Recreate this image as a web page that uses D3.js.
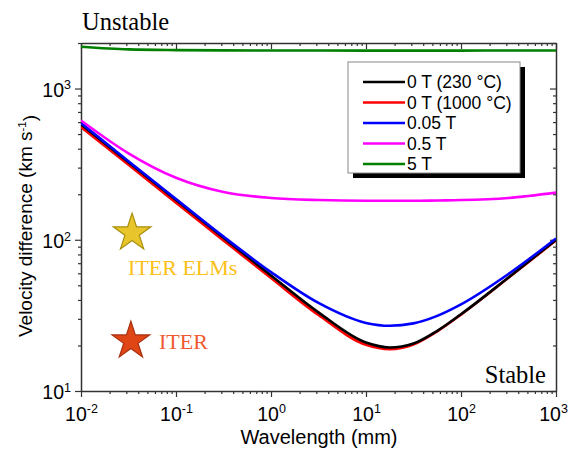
<!DOCTYPE html>
<html>
<head>
<meta charset="utf-8">
<script src="https://cdn.jsdelivr.net/npm/d3@7"></script>
<style>
  body { margin: 0; background: #fff; }
  svg text { font-family: "Liberation Sans", Arial, sans-serif; }
  .serif { font-family: "Liberation Serif", "Times New Roman", serif !important; }
</style>
</head>
<body>
<div id="chart"></div>
<script>
// Wavelength (mm) sampled along the curves
const wavelength = [0.01, 0.0316, 0.1, 0.316, 1, 3.16, 10, 17.8, 31.6, 56.2, 100, 316, 1000];

// Velocity difference (km/s)
const v0T230 = [580, 326, 183, 103, 58.1, 33.1, 20.9, 19.4, 20.6, 25.0, 32.2, 56.3, 100];
const v0T1000 = [556, 313, 176, 99, 55.8, 31.8, 20.2, 18.9, 20.3, 24.8, 32.0, 56.0, 99];
const v005T = [592, 330, 186, 105, 61.1, 38.2, 28.2, 27.0, 28.0, 31.4, 37.4, 59.4, 102];
const v05T = [615, 373, 257, 207, 189, 183, 181, 181, 181, 182, 183, 189, 205];
const v5T = [1890, 1815, 1795, 1788, 1785, 1783, 1782, 1782, 1782, 1782, 1782, 1783, 1785];

const seriesNames = ["0 T (230 °C)", "0 T (1000 °C)", "0.05 T", "0.5 T", "5 T"];
const seriesColors = ["#000000", "#ff0000", "#0000ff", "#ff00ff", "#008000"];
const seriesValues = [v0T230, v0T1000, v005T, v05T, v5T];

// ITER points
const markerNames = ["ITER ELMs", "ITER"];
const markerX = [0.0345, 0.0335];
const markerY = [111, 21.4];

const xMajor = [1e-2, 1e-1, 1e0, 1e1, 1e2, 1e3];
const yMajor = [1e1, 1e2, 1e3];

const margin = { top: 43, right: 15, bottom: 58, left: 81 };
const W = 571, H = 449;
const width = W - margin.left - margin.right;
const height = H - margin.top - margin.bottom;

const svg = d3.select("#chart").append("svg")
  .attr("width", W)
  .attr("height", H);

const g = svg.append("g")
  .attr("transform", `translate(${margin.left},${margin.top})`);

const x = d3.scaleLog().domain([1e-2, 1e3]).range([0, width]);
const y = d3.scaleLog().domain([10, 2000]).range([height, 0]);

g.append("clipPath").attr("id", "plot-clip")
  .append("rect").attr("width", width).attr("height", height);

// minor ticks
const xMinor = x.ticks().filter(d => !xMajor.includes(d));
const yMinor = y.ticks().filter(d => !yMajor.some(m => Math.abs(m - d) < 1e-9));

const exp = d => Math.round(Math.log10(d));

function supLabels(sel) {
  sel.selectAll(".tick text").each(function (d) {
    const t = d3.select(this);
    t.text(null);
    t.append("tspan").text("10");
    t.append("tspan").attr("dy", "-0.6em").attr("font-size", "12.5px").text(exp(d));
  });
}

function styleAxis(sel) {
  sel.select(".domain").attr("stroke", "#333").attr("stroke-width", 1.5);
  sel.selectAll(".tick line").attr("stroke", "#333").attr("stroke-width", 1.2);
  sel.selectAll(".tick text").attr("fill", "#000").attr("font-size", "19.5px");
}

// bottom
const bottom = g.append("g").attr("transform", `translate(0,${height})`)
  .call(d3.axisBottom(x).tickValues(xMajor).tickSize(6).tickPadding(10).tickSizeOuter(0));
bottom.call(supLabels).call(styleAxis);
bottom.selectAll(".tick text").filter(d => d === 1e3).attr("dx", "-0.15em");
g.append("g").attr("transform", `translate(0,${height})`)
  .call(d3.axisBottom(x).tickValues(xMinor).tickSize(3).tickFormat("").tickSizeOuter(0))
  .call(styleAxis).select(".domain").remove();

// top (mirror, inward)
g.append("g")
  .call(d3.axisBottom(x).tickValues(xMajor).tickSize(6).tickFormat("").tickSizeOuter(0))
  .call(styleAxis);
g.append("g")
  .call(d3.axisBottom(x).tickValues(xMinor).tickSize(3).tickFormat("").tickSizeOuter(0))
  .call(styleAxis).select(".domain").remove();

// left
const left = g.append("g")
  .call(d3.axisLeft(y).tickValues(yMajor).tickSize(6).tickPadding(4).tickSizeOuter(0));
left.call(supLabels).call(styleAxis);
left.selectAll(".tick text").attr("dy", "0.4em");
g.append("g")
  .call(d3.axisLeft(y).tickValues(yMinor).tickSize(3).tickFormat("").tickSizeOuter(0))
  .call(styleAxis).select(".domain").remove();

// right (mirror, inward)
g.append("g").attr("transform", `translate(${width},0)`)
  .call(d3.axisLeft(y).tickValues(yMajor).tickSize(6).tickFormat("").tickSizeOuter(0))
  .call(styleAxis);
g.append("g").attr("transform", `translate(${width},0)`)
  .call(d3.axisLeft(y).tickValues(yMinor).tickSize(3).tickFormat("").tickSizeOuter(0))
  .call(styleAxis).select(".domain").remove();

// curves
const line = d3.line()
  .x((d, i) => x(wavelength[i]))
  .y(d => y(d))
  .curve(d3.curveMonotoneX);

const drawOrder = [1, 0, 2, 3, 4];
g.append("g").attr("clip-path", "url(#plot-clip)")
  .selectAll("path")
  .data(drawOrder)
  .join("path")
  .attr("d", i => line(seriesValues[i]))
  .attr("fill", "none")
  .attr("stroke", i => seriesColors[i])
  .attr("stroke-width", 2.6);

// stars
const star = d3.symbol().type(d3.symbolStar).size(440);
const starFill = ["#e8c52a", "#e04515"];
const starStroke = ["#a89010", "#a83010"];
const labelColor = ["#fbbf16", "#f05a30"];

markerNames.forEach((name, i) => {
  g.append("path")
    .attr("d", star())
    .attr("transform", `translate(${x(markerX[i])},${y(markerY[i])})`)
    .attr("fill", starFill[i])
    .attr("stroke", starStroke[i])
    .attr("stroke-width", 1.2);
});

g.append("text").attr("class", "serif")
  .attr("x", 47).attr("y", y(markerY[0]) + 42)
  .attr("fill", labelColor[0]).attr("font-size", "22px")
  .text(markerNames[0]);
g.append("text").attr("class", "serif")
  .attr("x", 78).attr("y", y(markerY[1]) + 8)
  .attr("fill", labelColor[1]).attr("font-size", "22px")
  .text(markerNames[1]);

// region labels
svg.append("text").attr("class", "serif")
  .attr("x", 82).attr("y", 30)
  .attr("font-size", "24.5px").attr("fill", "#000")
  .text("Unstable");
svg.append("text").attr("class", "serif")
  .attr("x", 546).attr("y", 383).attr("text-anchor", "end")
  .attr("font-size", "24.5px").attr("fill", "#000")
  .text("Stable");

// axis titles
svg.append("text")
  .attr("x", 319).attr("y", 444)
  .attr("text-anchor", "middle").attr("font-size", "20px")
  .text("Wavelength (mm)");

const yt = svg.append("text")
  .attr("transform", `translate(32,226) rotate(-90)`)
  .attr("text-anchor", "middle").attr("font-size", "19px");
yt.append("tspan").text("Velocity difference (km s");
yt.append("tspan").attr("dy", "-0.5em").attr("font-size", "11.5px").text("-1");
yt.append("tspan").attr("dy", "0.5em").text(")");

// legend
const lg = svg.append("g").attr("transform", "translate(348,62)");
const lw = 172, lh = 111;
lg.append("rect").attr("x", 5).attr("y", 5).attr("width", lw).attr("height", lh).attr("fill", "#000");
lg.append("rect").attr("width", lw).attr("height", lh)
  .attr("fill", "#fff").attr("stroke", "#888").attr("stroke-width", 1);

seriesNames.forEach((name, i) => {
  const ly = 20 + i * 20.5;
  lg.append("line")
    .attr("x1", 15).attr("x2", 57).attr("y1", ly).attr("y2", ly)
    .attr("stroke", seriesColors[i]).attr("stroke-width", 2.6);
  lg.append("text")
    .attr("x", 59).attr("y", ly + 6)
    .attr("font-size", "17.5px").attr("fill", "#000")
    .text(name);
});
</script>
</body>
</html>
